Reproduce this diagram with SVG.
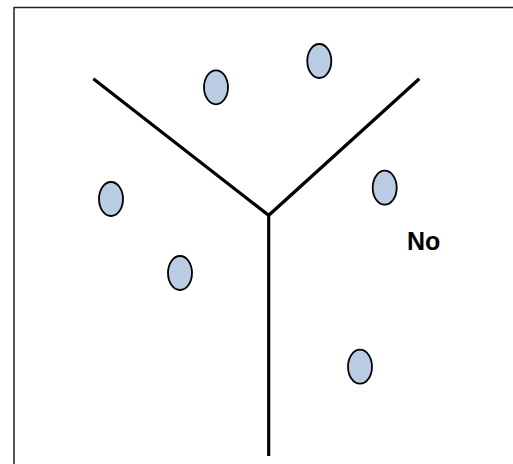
<svg xmlns="http://www.w3.org/2000/svg" width="513" height="464" viewBox="0 0 513 464">
<style>
.pt{fill:#b9cce4;stroke:#000;stroke-width:1.8}
.ln{stroke:#000;stroke-width:3.2;fill:none}
.lbl{font-family:"Liberation Sans",Arial,sans-serif;font-weight:bold;font-size:25px;fill:#000}
</style>
<rect width="513" height="464" fill="#fff"/>
<path d="M14,464 V7.5 H513" fill="none" stroke="#222" stroke-width="1.5"/>
<g id="connectors">
<path class="ln" d="M93.3,78.7 L268.7,215.3 L419.3,78.7 M268.7,215.3 V456"/>
</g>
<g id="p1"><ellipse class="pt" cx="216" cy="87.3" rx="12" ry="17"/></g>
<g id="p2"><ellipse class="pt" cx="319.3" cy="61" rx="12" ry="17"/></g>
<g id="p3"><ellipse class="pt" cx="384.7" cy="187.7" rx="12" ry="17"/></g>
<g id="p4"><ellipse class="pt" cx="111" cy="199" rx="12" ry="17"/></g>
<g id="p5"><ellipse class="pt" cx="180" cy="273" rx="12" ry="17"/></g>
<g id="p6"><ellipse class="pt" cx="360" cy="366.7" rx="12" ry="17"/></g>
<g id="label"><text class="lbl" x="407" y="250">No</text></g>
</svg>
